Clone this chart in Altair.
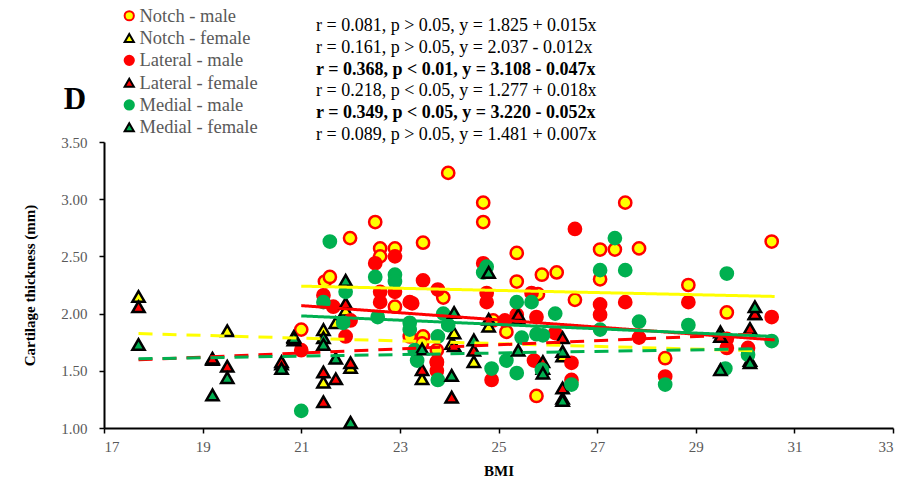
import altair as alt
import pandas as pd

SERIF = "Liberation Serif"
GREY = "#595959"
YELLOW = "#FFFF00"
RED = "#FF0000"
GREEN = "#00B050"

SERIES = ["Notch - male", "Notch - female", "Lateral - male",
          "Lateral - female", "Medial - male", "Medial - female"]
FILLS = [YELLOW, YELLOW, RED, RED, GREEN, GREEN]
EDGES = [RED, "black", RED, "black", GREEN, "black"]
SHAPES = ["circle", "triangle-up", "circle", "triangle-up", "circle", "triangle-up"]

# Female subjects: one BMI, three cartilage sites
female_bmi = [17.7, 19.2, 19.5, 20.6, 20.85, 21.45, 21.45, 21.7, 21.9, 22.0, 23.45,
              24.05, 24.1, 24.5, 24.8, 25.4, 25.9, 26.3, 26.3, 29.5, 30.1, 30.2]
notch_female = [2.15, 1.60, 1.85, 1.56, 1.80, 1.86, 1.40, 1.92, 2.03, 1.53, 1.43,
                1.74, 1.83, 1.58, 1.89, 1.96, 1.52, 1.63, 1.26, 1.84, 1.59, 2.00]
lateral_female = [2.06, 1.61, 1.54, 1.58, 1.77, 1.49, 1.23, 1.43, 2.09, 1.57, 1.51,
                  1.27, 1.72, 1.68, 1.95, 1.99, 1.58, 1.79, 1.35, 1.80, 1.87, 2.00]
medial_female = [1.73, 1.29, 1.44, 1.52, 1.79, 1.79, 1.73, 1.61, 2.29, 1.05, 1.69,
                 1.46, 2.01, 1.77, 2.36, 1.68, 1.48, 1.67, 1.24, 1.51, 1.57, 2.06]

# Male subjects, per site
notch_male_bmi = [21.0, 21.48, 21.58, 21.99, 22.5, 22.6, 22.9, 22.6, 22.9, 23.47,
                  23.2, 23.47, 23.45, 23.98, 24.69, 24.69, 25.37, 25.88, 25.37, 23.88,
                  24.89, 25.16, 23.75, 23.75, 25.77, 26.18, 25.8, 26.55, 27.06, 27.36,
                  27.85, 27.06, 27.57, 28.38, 28.85, 29.63, 30.54]
notch_male = [1.86, 2.28, 2.32, 2.66, 2.80, 2.57, 2.57, 2.50, 2.06, 2.62,
              1.80, 1.80, 1.74, 3.23, 2.97, 2.80, 2.53, 2.34, 2.28, 2.14,
              1.94, 1.84, 1.68, 1.58, 1.28, 2.36, 2.17, 2.12, 2.56, 2.56,
              2.57, 2.30, 2.97, 1.61, 2.25, 2.01, 2.63]

lateral_male_bmi = [21.0, 21.45, 21.65, 22.0, 21.9, 22.5, 22.9, 22.6, 22.9, 22.6,
                    23.2, 23.47, 23.77, 23.75, 23.75, 24.76, 24.76, 24.69, 24.86, 25.13,
                    25.37, 25.67, 25.77, 25.72, 26.15, 26.48, 26.48, 26.55, 27.06, 27.06,
                    27.57, 27.85, 28.38, 28.85, 29.63, 29.63, 30.06, 30.54, 23.25]
lateral_male = [1.68, 2.16, 2.06, 1.94, 1.80, 2.44, 2.50, 2.19, 2.19, 2.10,
                2.10, 2.29, 2.21, 1.57, 1.50, 2.18, 2.10, 2.44, 1.42, 1.94,
                1.99, 2.18, 1.97, 1.59, 1.83, 1.57, 1.42, 2.74, 2.08, 1.99,
                2.10, 1.79, 1.45, 2.10, 1.78, 1.70, 1.70, 1.97, 2.09]

medial_male_bmi = [21.0, 21.58, 21.45, 21.9, 21.85, 22.5, 22.9, 22.9, 22.55, 23.2,
                   23.3, 23.35, 23.2, 23.77, 23.88, 23.98, 23.77, 24.76, 24.69, 24.86,
                   25.16, 25.37, 25.67, 25.37, 25.47, 25.77, 25.88, 26.15, 25.9, 26.48,
                   27.06, 27.06, 27.36, 27.57, 27.85, 28.38, 28.85, 29.63, 29.6, 30.06,
                   30.54]
medial_male = [1.15, 2.63, 2.10, 2.19, 1.92, 2.32, 2.34, 2.28, 1.97, 1.86,
               1.68, 1.59, 1.92, 1.80, 2.00, 1.90, 1.42, 2.41, 2.36, 1.52,
               1.59, 2.10, 2.10, 1.48, 1.79, 1.82, 1.51, 2.00, 1.81, 1.38,
               2.38, 1.86, 2.66, 2.38, 1.93, 1.38, 1.90, 2.35, 1.52, 1.64,
               1.76]

# Linear trend lines: end points per series (solid = male, dashed = female)
trend_x0 = [21.0, 17.7, 21.0, 17.7, 21.0, 17.7]
trend_x1 = [30.6, 30.2, 30.6, 30.2, 30.6, 30.2]
trend_y0 = [2.24, 1.825, 2.07, 1.596, 1.98, 1.605]
trend_y1 = [2.15, 1.675, 1.77, 1.821, 1.80, 1.692]
trend_sex = ["male", "female", "male", "female", "male", "female"]

stats_lines = [
    "r = 0.081, p > 0.05, y = 1.825 + 0.015x",
    "r = 0.161, p > 0.05, y = 2.037 - 0.012x",
    "r = 0.368, p < 0.01, y = 3.108 - 0.047x",
    "r = 0.218, p < 0.05, y = 1.277 + 0.018x",
    "r = 0.349, p < 0.05, y = 3.220 - 0.052x",
    "r = 0.089, p > 0.05, y = 1.481 + 0.007x",
]
stats_bold = [False, False, True, False, True, False]

x_ticks = [17, 19, 21, 23, 25, 27, 29, 31, 33]
y_ticks = [1.0, 1.5, 2.0, 2.5, 3.0, 3.5]

series_points = [
    (SERIES[0], notch_male_bmi, notch_male),
    (SERIES[1], female_bmi, notch_female),
    (SERIES[2], lateral_male_bmi, lateral_male),
    (SERIES[3], female_bmi, lateral_female),
    (SERIES[4], medial_male_bmi, medial_male),
    (SERIES[5], female_bmi, medial_female),
]
frames = []
for name, xs, ys in series_points:
    frames.append(pd.DataFrame({"bmi": xs, "thickness": ys, "series": name}))
points_df = pd.concat(frames, ignore_index=True)

trend_rows = []
for i, name in enumerate(SERIES):
    trend_rows.append({"series": name, "sex": trend_sex[i], "bmi": trend_x0[i], "thickness": trend_y0[i]})
    trend_rows.append({"series": name, "sex": trend_sex[i], "bmi": trend_x1[i], "thickness": trend_y1[i]})
trend_df = pd.DataFrame(trend_rows)

x_scale = alt.Scale(domain=[17, 33], nice=False, zero=False)
y_scale = alt.Scale(domain=[1, 3.5], nice=False, zero=False)

x_enc = alt.X(
    "bmi:Q", scale=x_scale,
    axis=alt.Axis(values=x_ticks, format="d", title="BMI",
                  titlePadding=9, labelPadding=6),
)
y_enc = alt.Y(
    "thickness:Q", scale=y_scale,
    axis=alt.Axis(values=y_ticks, format=".2f", title="Cartilage thickness (mm)",
                  titlePadding=23, labelPadding=12),
)

points = alt.Chart(points_df).mark_point(
    filled=True, opacity=1, size=150, strokeWidth=2.5
).encode(
    x=x_enc,
    y=y_enc,
    fill=alt.Fill(
        "series:N",
        scale=alt.Scale(domain=SERIES, range=FILLS),
        legend=alt.Legend(
            title=None, orient="none", legendX=16, legendY=-135.5,
            labelFont=SERIF, labelFontSize=18.5, labelColor=GREY, labelLimit=300,
            symbolSize=85, symbolStrokeWidth=2, rowPadding=3.3, labelOffset=1,
            padding=0,
        ),
    ),
    stroke=alt.Stroke("series:N", scale=alt.Scale(domain=SERIES, range=EDGES)),
    shape=alt.Shape("series:N", scale=alt.Scale(domain=SERIES, range=SHAPES)),
)

trends = alt.Chart(trend_df).mark_line(strokeWidth=3, clip=True).encode(
    x=alt.X("bmi:Q", scale=x_scale),
    y=alt.Y("thickness:Q", scale=y_scale),
    color=alt.Color("series:N", scale=alt.Scale(domain=SERIES, range=FILLS), legend=None),
    strokeDash=alt.StrokeDash(
        "sex:N",
        scale=alt.Scale(domain=["male", "female"], range=[[1, 0], [14, 10]]),
        legend=None,
    ),
    detail="series:N",
)

texts = []
for i, line in enumerate(stats_lines):
    texts.append(
        alt.Chart(pd.DataFrame({"t": [line]})).mark_text(
            align="left", baseline="middle", font=SERIF, fontSize=18,
            fontWeight="bold" if stats_bold[i] else "normal", color="black",
            x=212, y=-116 + 21.8 * i,
        ).encode(text="t:N")
    )

panel_label = alt.Chart(pd.DataFrame({"t": ["D"]})).mark_text(
    align="center", baseline="middle", font=SERIF, fontSize=31, fontWeight="bold",
    color="black", x=-29, y=-42,
).encode(text="t:N")

chart = alt.layer(points, trends, *texts, panel_label).resolve_scale(
    color="independent"
).properties(
    width=789,
    height=286,
    autosize="none",
    padding={"left": 104, "top": 142, "right": 16, "bottom": 60},
).configure(
    background="white"
).configure_axis(
    labelFont=SERIF, labelFontSize=15, labelColor=GREY,
    titleFont=SERIF, titleFontSize=15, titleFontWeight="bold", titleColor="black",
    domainColor="black", domainWidth=2, tickColor="black", tickWidth=1.5, tickSize=5,
    grid=False,
).configure_view(stroke=None)

chart.save("out.html", embed_options={"renderer": "svg", "actions": False})
